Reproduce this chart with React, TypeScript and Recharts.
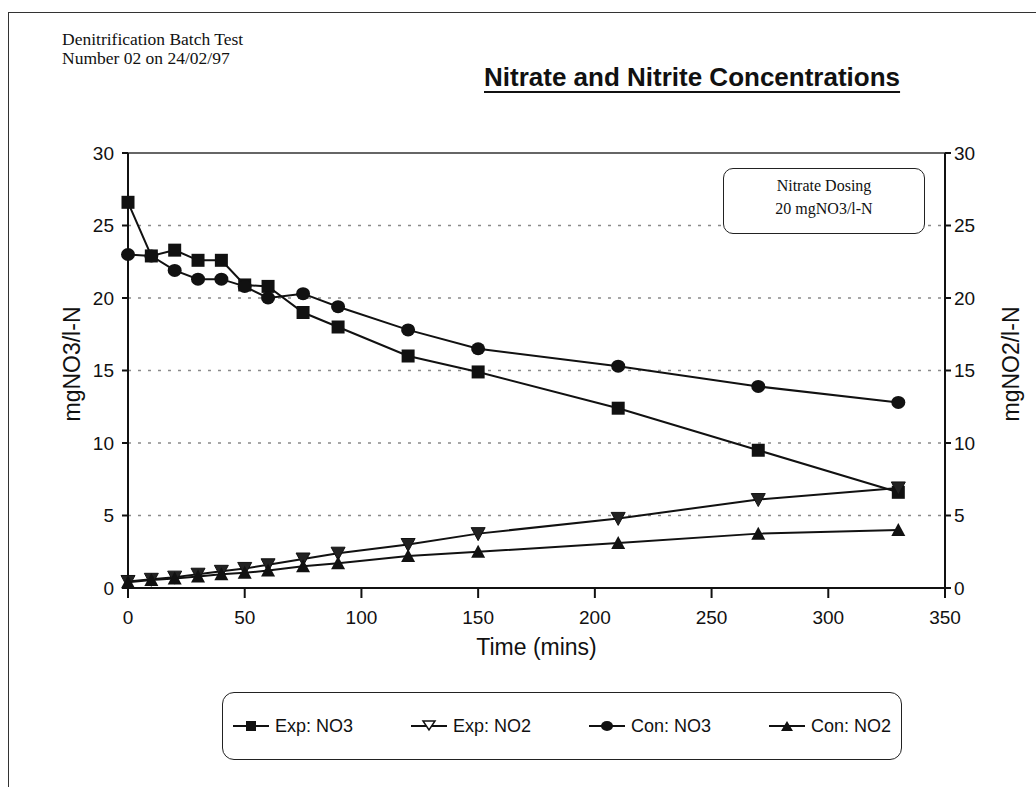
import React from 'react';
import {
  LineChart,
  Line,
  XAxis,
  YAxis,
  CartesianGrid,
  ReferenceLine,
  Legend,
} from 'recharts';

// sampling times (mins)
const times = [0, 10, 20, 30, 40, 50, 60, 75, 90, 120, 150, 210, 270, 330];

// concentrations
const expNO3 = [26.6, 22.9, 23.3, 22.6, 22.6, 20.9, 20.8, 19.0, 18.0, 16.0, 14.9, 12.4, 9.5, 6.6];
const expNO2 = [0.45, 0.6, 0.75, 0.95, 1.15, 1.35, 1.6, 2.0, 2.4, 3.0, 3.75, 4.8, 6.1, 6.9];
const conNO3 = [23.0, 22.9, 21.9, 21.3, 21.3, 20.8, 20.0, 20.3, 19.4, 17.8, 16.5, 15.3, 13.9, 12.8];
const conNO2 = [0.4, 0.55, 0.65, 0.8, 0.95, 1.05, 1.2, 1.5, 1.7, 2.2, 2.5, 3.1, 3.75, 4.0];

const xTicks = [0, 50, 100, 150, 200, 250, 300, 350];
const yTicks = [0, 5, 10, 15, 20, 25, 30];

const data = times.map((t, i) => ({
  time: t,
  expNO3: expNO3[i],
  expNO2: expNO2[i],
  conNO3: conNO3[i],
  conNO2: conNO2[i],
}));

const SANS = '"Liberation Sans", Arial, sans-serif';
const SERIF = '"Liberation Serif", "Times New Roman", serif';
const INK = '#111';

function SquareDot(props: any) {
  const { cx, cy } = props;
  if (cx == null || cy == null) return null;
  return <rect key={`sq-${cx}`} x={cx - 6.5} y={cy - 6.5} width={13} height={13} fill={INK} />;
}

function CircleDot(props: any) {
  const { cx, cy } = props;
  if (cx == null || cy == null) return null;
  return <ellipse key={`ci-${cx}`} cx={cx} cy={cy} rx={7} ry={6.5} fill={INK} />;
}

function TriDownDot(props: any) {
  const { cx, cy } = props;
  if (cx == null || cy == null) return null;
  return (
    <polygon
      key={`td-${cx}`}
      points={`${cx - 7},${cy - 6} ${cx + 7},${cy - 6} ${cx},${cy + 7}`}
      fill="#222"
      stroke={INK}
      strokeWidth={1}
    />
  );
}

function TriUpDot(props: any) {
  const { cx, cy } = props;
  if (cx == null || cy == null) return null;
  return (
    <polygon
      key={`tu-${cx}`}
      points={`${cx - 7},${cy + 6} ${cx + 7},${cy + 6} ${cx},${cy - 7}`}
      fill={INK}
    />
  );
}

const legendItems = [
  { label: 'Exp: NO3', shape: 'square' },
  { label: 'Exp: NO2', shape: 'down' },
  { label: 'Con: NO3', shape: 'circle' },
  { label: 'Con: NO2', shape: 'up' },
];

function LegendIcon({ shape }: { shape: string }) {
  return (
    <svg width={36} height={14} style={{ display: 'block' }}>
      <line x1={0} y1={7} x2={36} y2={7} stroke={INK} strokeWidth={2} />
      {shape === 'square' && <rect x={13} y={2} width={10} height={10} fill={INK} />}
      {shape === 'circle' && <ellipse cx={18} cy={7} rx={6} ry={5} fill={INK} />}
      {shape === 'down' && (
        <polygon points="12,2 24,2 18,11" fill="#fff" stroke={INK} strokeWidth={1.5} />
      )}
      {shape === 'up' && <polygon points="12,12 24,12 18,2" fill={INK} />}
    </svg>
  );
}

function BoxLegend() {
  return (
    <div
      style={{
        boxSizing: 'border-box',
        width: 680,
        height: 68,
        border: '1.5px solid #222',
        borderRadius: 12,
        display: 'flex',
        alignItems: 'center',
        justifyContent: 'space-between',
        padding: '0 10px',
        fontFamily: SANS,
        fontSize: 18,
        color: INK,
      }}
    >
      {legendItems.map((it) => (
        <div key={it.label} style={{ display: 'flex', alignItems: 'center', gap: 6 }}>
          <LegendIcon shape={it.shape} />
          <span>{it.label}</span>
        </div>
      ))}
    </div>
  );
}

export default function App() {
  const tickStyle = { fontFamily: SANS, fontSize: 19, fill: INK };
  const titleStyle: React.CSSProperties = {
    position: 'absolute',
    top: 364,
    transform: 'translate(-50%, -50%) rotate(-90deg)',
    fontFamily: SANS,
    fontSize: 23,
    color: INK,
    whiteSpace: 'nowrap',
  };

  return (
    <div
      style={{
        position: 'absolute',
        left: 0,
        top: 0,
        width: 1036,
        height: 787,
        background: '#fff',
        overflow: 'hidden',
      }}
    >
      {/* page frame */}
      <div
        style={{
          position: 'absolute',
          left: 8,
          top: 12,
          width: 1028,
          height: 775,
          borderTop: '1.5px solid #333',
          borderLeft: '1.5px solid #333',
        }}
      />

      <div
        style={{
          position: 'absolute',
          left: 62,
          top: 30,
          fontFamily: SERIF,
          fontSize: 17.5,
          lineHeight: '19px',
          color: INK,
        }}
      >
        Denitrification Batch Test
        <br />
        Number 02 on 24/02/97
      </div>

      <div
        style={{
          position: 'absolute',
          left: 484,
          top: 62,
          fontFamily: SANS,
          fontWeight: 'bold',
          fontSize: 26,
          textDecoration: 'underline',
          textUnderlineOffset: 5,
          color: INK,
          whiteSpace: 'nowrap',
        }}
      >
        Nitrate and Nitrite Concentrations
      </div>

      <LineChart
        width={1036}
        height={787}
        data={data}
        margin={{ top: 153, right: 31, left: 68, bottom: 91 }}
      >
        <CartesianGrid
          yAxisId="left"
          vertical={false}
          stroke="#8a8a8a"
          strokeDasharray="3 7"
          strokeWidth={1.5}
        />
        <XAxis
          dataKey="time"
          type="number"
          domain={[0, 350]}
          ticks={xTicks}
          height={40}
          stroke={INK}
          strokeWidth={2}
          tickSize={10}
          tickMargin={13}
          tick={tickStyle}
          label={{
            value: 'Time (mins)',
            position: 'bottom',
            offset: 11,
            style: { fontFamily: SANS, fontSize: 23, fill: INK },
          }}
        />
        <YAxis
          yAxisId="left"
          domain={[0, 30]}
          ticks={yTicks}
          width={60}
          stroke={INK}
          strokeWidth={2}
          tickSize={6}
          tickMargin={8}
          tick={tickStyle}
        />
        <YAxis
          yAxisId="right"
          orientation="right"
          domain={[0, 30]}
          ticks={yTicks}
          width={60}
          stroke={INK}
          strokeWidth={2}
          tickSize={6}
          tickMargin={3}
          tick={tickStyle}
        />
        <ReferenceLine yAxisId="left" y={30} stroke="#666" strokeWidth={2} />
        <Line
          yAxisId="left"
          dataKey="expNO3"
          stroke={INK}
          strokeWidth={2}
          dot={<SquareDot />}
          isAnimationActive={false}
        />
        <Line
          yAxisId="left"
          dataKey="conNO3"
          stroke={INK}
          strokeWidth={2}
          dot={<CircleDot />}
          isAnimationActive={false}
        />
        <Line
          yAxisId="right"
          dataKey="expNO2"
          stroke={INK}
          strokeWidth={2}
          dot={<TriDownDot />}
          isAnimationActive={false}
        />
        <Line
          yAxisId="right"
          dataKey="conNO2"
          stroke={INK}
          strokeWidth={2}
          dot={<TriUpDot />}
          isAnimationActive={false}
        />
        <Legend
          content={<BoxLegend />}
          wrapperStyle={{ position: 'absolute', left: 222, top: 692, width: 680, height: 68 }}
        />
      </LineChart>

      {/* axis titles */}
      <div style={{ ...titleStyle, left: 72 }}>mgNO3/l-N</div>
      <div style={{ ...titleStyle, left: 1011 }}>mgNO2/l-N</div>

      {/* dosing note */}
      <div
        style={{
          position: 'absolute',
          left: 723,
          top: 168,
          width: 202,
          height: 66,
          boxSizing: 'border-box',
          border: '1.5px solid #222',
          borderRadius: 10,
          background: '#fff',
          fontFamily: SERIF,
          fontSize: 16,
          lineHeight: '23px',
          color: INK,
          textAlign: 'center',
          paddingTop: 5,
        }}
      >
        Nitrate Dosing
        <br />
        20 mgNO3/l-N
      </div>
    </div>
  );
}
